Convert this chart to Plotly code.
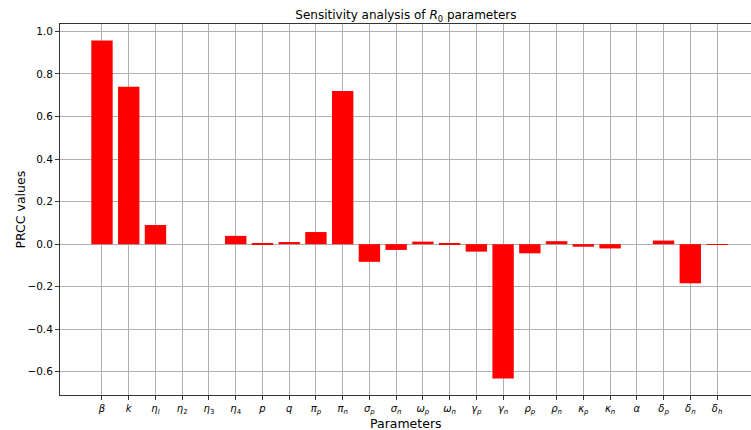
import plotly.graph_objects as go

params = ["β", "k", "η_l", "η_2", "η_3", "η_4", "p", "q", "π_p", "π_n", "σ_p", "σ_n",
          "ω_p", "ω_n", "γ_p", "γ_n", "ρ_p", "ρ_n", "κ_p", "κ_n", "α", "δ_p", "δ_n", "δ_h"]
tick_labels = ["<i>β</i>", "<i>k</i>", "<i>η</i><sub><i>l</i></sub>", "<i>η</i><sub>2</sub>",
               "<i>η</i><sub>3</sub>", "<i>η</i><sub>4</sub>", "<i>p</i>", "<i>q</i>",
               "<i>π</i><sub><i>p</i></sub>", "<i>π</i><sub><i>n</i></sub>",
               "<i>σ</i><sub><i>p</i></sub>", "<i>σ</i><sub><i>n</i></sub>",
               "<i>ω</i><sub><i>p</i></sub>", "<i>ω</i><sub><i>n</i></sub>",
               "<i>γ</i><sub><i>p</i></sub>", "<i>γ</i><sub><i>n</i></sub>",
               "<i>ρ</i><sub><i>p</i></sub>", "<i>ρ</i><sub><i>n</i></sub>",
               "<i>κ</i><sub><i>p</i></sub>", "<i>κ</i><sub><i>n</i></sub>",
               "<i>α</i>", "<i>δ</i><sub><i>p</i></sub>", "<i>δ</i><sub><i>n</i></sub>",
               "<i>δ</i><sub><i>h</i></sub>"]
prcc = [0.958, 0.74, 0.09, 0.0, 0.0, 0.039, 0.003, 0.01, 0.057, 0.72, -0.083, -0.027,
        0.012, 0.002, -0.035, -0.632, -0.043, 0.014, -0.012, -0.02, 0.0, 0.017, -0.184, -0.003]
y_ticks = [-0.6, -0.4, -0.2, 0.0, 0.2, 0.4, 0.6, 0.8, 1.0]
y_tick_text = [f"{v:.1f}".replace("-", "\u2212") for v in y_ticks]

x_pos = list(range(len(params)))

fig = go.Figure(go.Bar(
    x=x_pos, y=prcc, width=0.8,
    marker=dict(color="#ff0000", line=dict(width=0)),
    hovertext=params,
))

font = "DejaVu Sans"
fig.update_layout(
    width=751, height=430,
    margin=dict(l=60, r=0, t=24, b=35, autoexpand=False),
    paper_bgcolor="white", plot_bgcolor="white",
    showlegend=False,
    font=dict(family=font, color="black"),
    title=dict(text="Sensitivity analysis of <i>R</i><sub>0</sub> parameters",
               x=0.5405, xanchor="center", y=0.965, yanchor="middle",
               font=dict(size=12, family=font, color="black")),
    annotations=[
        dict(text="Parameters", xref="paper", yref="paper", x=0.5, y=0,
             xanchor="center", yanchor="middle", yshift=-28.5, showarrow=False,
             borderpad=0,
             font=dict(size=12.5, family=font, color="black")),
        dict(text="PRCC values", xref="paper", yref="paper", x=0, y=0.5,
             xanchor="center", yanchor="middle", xshift=-40, textangle=-90,
             showarrow=False, font=dict(size=12.5, family=font, color="black")),
    ],
)
fig.update_xaxes(
    range=[-1.57, 24.27], tickvals=x_pos, ticktext=tick_labels,
    showgrid=True, gridcolor="#b0b0b0", gridwidth=0.8,
    showline=True, linecolor="#333333", linewidth=1, mirror=True,
    ticks="outside", ticklen=3.5, tickcolor="#333333", tickwidth=1,
    tickfont=dict(size=10, family=font), automargin=False,
    zeroline=False, layer="above traces",
)
fig.update_yaxes(
    range=[-0.709, 1.035], tickvals=y_ticks, ticktext=y_tick_text,
    showgrid=True, gridcolor="#b0b0b0", gridwidth=0.8,
    showline=True, linecolor="#333333", linewidth=1, mirror=False,
    ticks="outside", ticklen=4, tickcolor="#333333", tickwidth=1,
    tickfont=dict(size=10.5, family=font), automargin=False,
    zeroline=False, layer="above traces",
)

fig.write_html("out.html")
